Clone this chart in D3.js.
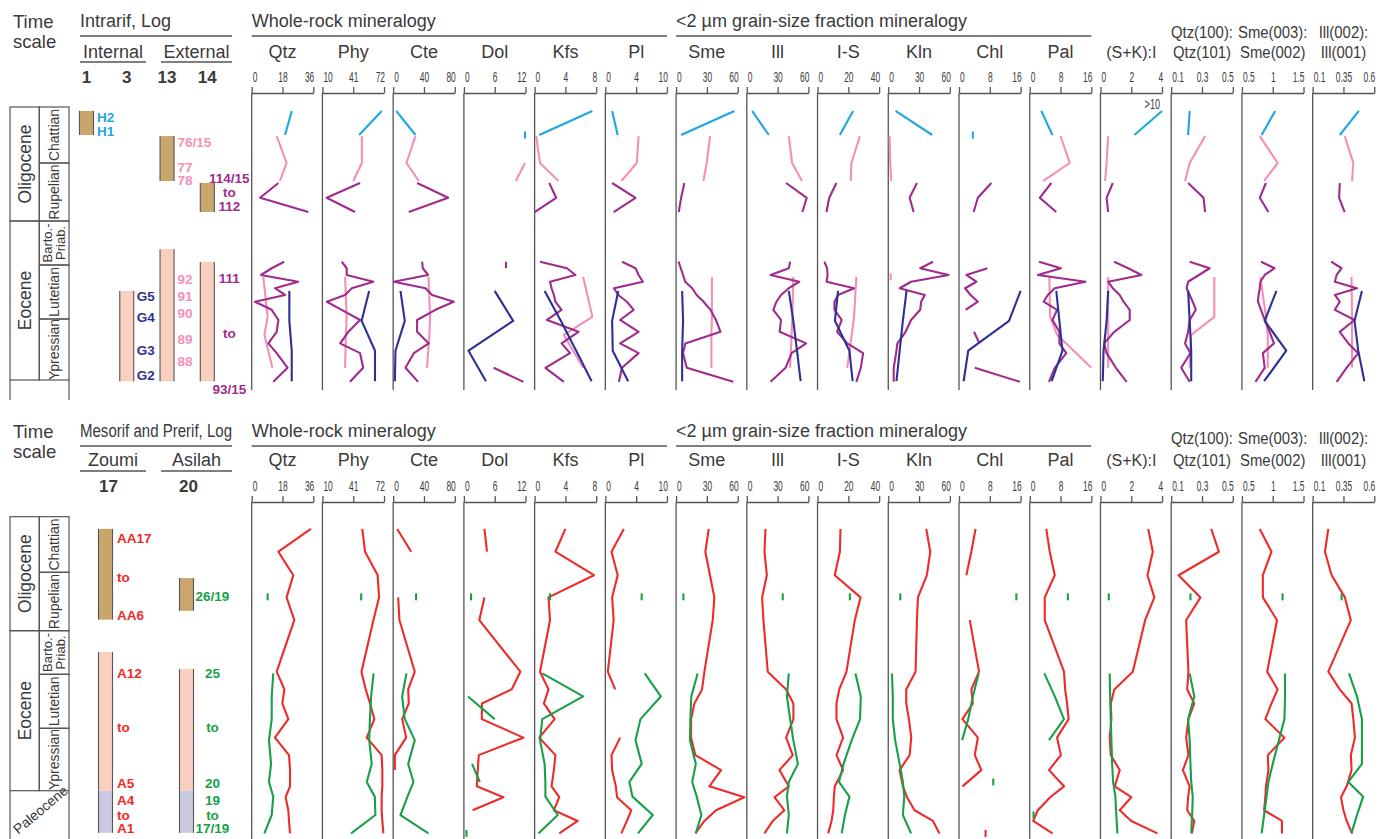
<!DOCTYPE html>
<html><head><meta charset="utf-8">
<script src="https://cdn.jsdelivr.net/npm/d3@7"></script>
<style>body{margin:0;background:#fff}svg{font-family:Arial,"Liberation Sans",sans-serif}</style>
</head><body>
<svg id="c" width="1389" height="839"></svg>
<script>
// ---------------- DATA ----------------
const panelNames = [["Qtz"],["Phy"],["Cte"],["Dol"],["Kfs"],["Pl"],["Sme"],["Ill"],["I-S"],["Kln"],["Chl"],["Pal"],["(S+K):I"],["Qtz(100):","Qtz(101)"],["Sme(003):","Sme(002)"],["Ill(002):","Ill(001)"]];
const panelDomains = [[0,36],[10,72],[0,80],[0,12],[0,8],[0,10],[0,60],[0,60],[0,40],[0,60],[0,16],[0,16],[0,4],[0.1,0.5],[0.5,1.5],[0.1,0.6]];
const tickLabels = [["0","18","36"],["10","41","72"],["0","40","80"],["0","6","12"],["0","4","8"],["0","4","10"],["0","30","60"],["0","30","60"],["0","20","40"],["0","30","60"],["0","8","16"],["0","8","16"],["0","2","4"],["0.1","0.3","0.5"],["0.5","1","1.5"],["0.1","0.35","0.6"]];
const groupTitles = ["Whole-rock mineralogy","<2 µm grain-size fraction mineralogy"];
const groupFirst = [0,6];
const groupLast = [5,11];

// time scale (stratigraphic position in stage units: 0 = top Chattian ... 5 = base Ypresian)
const epochNames = ["Oligocene","Eocene"];
const epochFrom = [0,2];
const epochTo = [2,5];
const stageNames = [["Chattian"],["Rupelian"],["Barto.-","Priab."],["Lutetian"],["Ypressian"]];
const stageFrom = [0,1,2,3,4];
const stageTo = [1,2,3,4,5];

// ---- Intrarif (top) ----
const topLogs = ["1","3","13","14"];
const topBarLog = ["1","13","14","3","13","14"];
const topBarFrom = [0.07,0.52,1.345,3.48,2.64,2.93];
const topBarTo = [0.5,1.31,1.845,5.02,5.02,5.02];
const topBarAge = ["Oligocene","Oligocene","Oligocene","Eocene","Eocene","Eocene"];

const log1Labels = ["H2","H1"];
const log1LabelLevels = [0.18,0.43];
const log3Labels = ["G5","G4","G3","G2"];
const log3LabelLevels = [3.57,3.96,4.52,4.93];
const log13Labels = ["76/15","77","78","92","91","90","89","88"];
const log13LabelLevels = [0.625,1.07,1.29,3.26,3.57,3.89,4.33,4.69];
const log14Labels = ["114/15","to","112","111","to","93/15"];
const log14LabelLevels = [1.26,1.5,1.74,3.24,4.23,5.15];

// series: sample levels + values per panel (panel order as panelNames)
const log1Levels = [0.07,0.5];
const log1Values = [[23.4,19.5],[69.7,46.9],[3.9,29],[null,11.9],[7.5,0.6],[1.1,2.0],[56.8,4.9],[5.2,21.4],[23.1,14.5],[7.1,42.8],[null,3.6],[3,5.9],[4,2.2],[0.22,0.21],[1.04,0.82],[0.475,0.32]];

const log13UpperLevels = [0.52,1.0,1.31];
const log13UpperValues = [[14.6,20.4,16.5],[49.7,49.7,41],[29,17.3,33.4],[null,11.9,10.1],[0.2,0.7,3.1],[5.4,5.1,2.6],[33.1,29.8,26.6],[40.9,44.1,53.8],[27.5,22,21.6],[1.3,1.9,2.9],[null,null,null],[8,10.4,3.5],[0.5,0.4,0.3],[0.32,0.22,0.19],[0.79,1.08,0.86],[0.36,0.43,0.42]];

const log14UpperLevels = [1.345,1.6,1.845];
const log14UpperValues = [[15.6,4.9,33.1],[47.9,14.3,42.8],[31.1,71.4,20.3],[null,null,null],[1.9,2.8,0],[1.1,4.9,1.35],[8.1,4.9,2.6],[38.3,58.4,54.1],[12.3,7.6,5.8],[27.9,20.8,24.7],[8.4,4.9,3.8],[5.6,2.6,6.9],[0.8,0.4,0.5],[0.21,0.31,0.32],[0.89,0.79,0.93],[0.32,0.315,0.36]];

const log3Levels = [3.48,4.03,4.52,5.02];
const log3Values = [[22,22,23.4,23.4],[57,49.5,62.9,62.9],[9.5,15.1,3,2.2],[6,9.6,0.9,4.3],[1.3,3.4,5.4,7.4],[2.1,1.1,1.2,3.7],[5.9,6.8,5.9,5.9],[40.9,45.3,48.9,52.4],[13.3,11.3,20.7,22.8],[17.8,14.2,11.1,8],[16,13,2.4,1.2],[6.9,7.7,8.5,5.7],[0.5,0.4,0.2,0.15],[0.21,0.22,0.23,0.23],[1.06,0.87,1.22,0.86],[0.5,0.44,0.47,0.52]];

const log13LowerLevels = [3.22,3.96,4.26,4.8];
const log13LowerValues = [[6.8,9.3,7.4,12.1],[32.8,34.4,33.6,32.8],[45.8,48,47,44],[null,null,null,null],[6.3,7.5,3.8,6.3],[null,null,null,null],[34.9,34.9,34.4,34.4],[45.3,44.4,43.6,42.2],[25.2,23.7,22.2,19.3],[2.4,null,null,null],[null,null,null,null],[5.1,5.3,7.1,16],[0.5,0.5,0.5,0.5],[0.38,0.38,0.23,0.22],[0.8,0.89,0.92,0.92],[0.415,0.42,0.42,0.42]];

const log14LowerLevels = [2.925,3.06,3.185,3.31,3.43,3.555,3.68,3.83,4.016,4.21,4.4,4.56,4.8,5.03];
const log14LowerValues = [
 [19,11.7,5.4,27.2,13.6,19.5,1.9,11.7,15.6,14.6,9.7,14.6,21,12.6],
 [29.4,34.4,34.4,61.3,39.5,32.8,14.4,29.4,47.9,36.1,27.8,47.9,51,37.8],
 [37.6,38.5,45.4,0.9,42,50.6,78.7,54.9,31.1,31.1,46.3,26.8,16,32.4],
 [8.2,8.2,null,null,null,null,null,null,null,null,null,null,5.8,11.6],
 [0.7,4.2,5.3,2,2.2,2.5,2.7,3.5,1.6,5.7,3.5,4.6,1.4,3.8],
 [2.7,4.9,5.4,6.1,1.4,2.1,3.5,4.6,2.4,5.4,2.4,5.4,2.7,2.2],
 [2.4,4.6,6.8,8.9,15.7,20,26.8,33.5,38.8,43.3,9,6.8,10.4,55.7],
 [42.2,40.9,23.1,51.1,40.9,33.3,28.9,25.8,33.3,32,57.8,43.6,37.8,23.1],
 [4.4,6.2,6.5,5.9,23.7,13.3,11,11,15.7,12.7,19.3,29.6,28.1,25.2],
 [43.6,31.1,58.7,22.2,11.1,35.6,32,31.1,22.2,16.9,8.9,7.6,5.3,5.3],
 [null,7.4,1.9,4.5,1.6,3.0,4.9,1.7,null,3.9,5.3,null,4.1,15.8],
 [2.4,8.1,2.1,14.5,6.5,4.7,3.6,7.1,5.9,7.7,7.7,9.5,6.5,5],
 [0.89,1.8,2.66,0.5,0.8,1.25,1.5,1.9,1.9,0.9,0.24,0.4,1.0,1.7],
 [0.22,0.35,0.28,0.21,0.2,0.22,0.24,0.26,0.22,0.21,0.19,0.225,0.165,0.22],
 [0.81,1.03,0.87,0.8,0.79,0.77,0.76,0.81,0.87,0.95,1.02,0.84,0.87,0.72],
 [0.25,0.335,0.295,0.28,0.46,0.28,0.32,0.28,0.44,0.32,0.39,0.47,0.375,0.295]];

// ---- Mesorif and Prerif (bottom) ----
const botLogs = ["17","20"];
const botLogNames = ["Zoumi","Asilah"];
const botBarLog = ["17","17","17","20","20","20"];
const botBarFrom = [0.22,2.49,5.0,1.1,2.88,5.0];
const botBarTo = [1.81,5.0,5.71,1.66,5.0,5.71];
const botBarAge = ["Oligocene","Eocene","Paleocene","Oligocene","Eocene","Paleocene"];

const zoumiLabels = ["AA17","to","AA6","A12","to","A5","A4","to","A1"];
const zoumiLabelLevels = [0.38,1.08,1.73,2.97,3.99,4.88,5.16,5.41,5.64];
const asilahLabels = ["26/19","25","to","20","19","to","17/19"];
const asilahLabelLevels = [1.41,2.97,3.99,4.88,5.16,5.41,5.64];

const zoumiLevels = [0.22,0.63,1.05,1.43,1.82,2.94,3.28,3.54,3.83,4.15,4.43,4.67,4.93,5.11,5.33,5.51,5.72];
const zoumiValues = [
 [34.6,15.6,24.3,20.4,24.9,14.6,19.1,17.9,21.4,13.6,21.8,22.4,22.4,19.8,21.4,21.8,22.4],
 [50.1,52.9,65.6,67,61.3,49.3,53.6,57.9,62.3,54.6,69.6,70.3,70.3,69.6,69.6,70.3,71.3],
 [5.2,23.4,null,6.5,8.2,28.1,19.5,20.3,11.7,16.9,2.2,2.2,null,null,null,null,null],
 [4,4.5,null,4,3,11,9.3,3.5,3.5,11.6,2.9,2.7,2.5,7.7,1.7,null,null],
 [4,2.7,7.7,1.8,2,0.7,1.8,1.2,2.6,0.6,2.7,2.5,2.2,3.2,2.5,5.6,3.2],
 [3,1,2,1.1,1.35,0.4,1.6,null,null,2.4,1,1.1,1.7,1.9,4.2,3.5,2.6],
 [31.8,28.5,33,37.3,35.7,27.6,25.3,17.8,14.6,14.6,18.8,43.8,32.4,66.5,38.9,27.6,18.8],
 [18.2,17.2,19.5,14.9,16.2,20.4,38.3,45.4,45.4,38.3,44.8,31.8,40.9,26.9,36.6,25.3,17.2],
 [14.9,14.5,11.2,27.9,24.2,18.8,14.1,12.3,12.3,16.6,12.3,16.6,11.2,10.6,10.2,9.1,6.9],
 [37,40.9,37.6,28.9,27.9,26.6,17.5,17.5,20.1,22.4,20.8,11,14.3,18.2,25.6,43.5,49.9],
 [4.3,3.2,1.9,null,2.8,5.2,3.2,3.6,0.9,4.9,4.1,5.8,0.9,null,null,null,6.9],
 [4.3,5.2,6.5,3.9,3.9,8.9,9.2,9.7,10.1,7.1,8.1,5,8.9,5.3,2.1,0.9,5.9],
 [3.1,3.4,3.05,3.5,2.9,2.1,0.9,0.67,0.71,0.6,0.67,1.25,0.93,2.0,1.25,2.0,3.7],
 [0.36,0.41,0.148,0.29,0.197,0.212,0.204,0.25,0.212,0.197,0.212,0.176,0.22,0.21,0.204,0.25,0.234],
 [0.79,0.98,0.84,0.84,1.07,0.91,1.08,0.98,0.88,1.19,0.92,0.93,0.89,0.88,0.86,1.15,1.15],
 [0.227,0.2,0.254,0.362,0.41,0.227,0.32,0.416,0.43,0.443,0.41,0.416,0.376,0.33,0.35,0.376,0.42]];

const asilahRupLevels = [1.42];
const asilahRupValues = [[9.3],[49],[29.8],[1.4],[2],[5.9],[7.1],[35],[21],[11.7],[14.9],[9.9],[0.54],[0.225],[1.16],[0.335]];

const asilahLevels = [2.98,3.41,3.83,4.19,4.57,4.86,5.1,5.41,5.72];
const asilahValues = [
 [12.6,11.7,11.7,10.1,11.3,10.1,12.6,11.7,7.4],
 [61.5,59,57.8,57.1,59.6,54.6,62.7,63.3,38.8],
 [17.3,11.6,15.1,28.1,19.5,26.4,18.6,9.5,45.8],
 [null,0.8,6,null,1.6,3.1,null,null,0.5],
 [1,6.3,1,0.7,1.3,1.4,1.4,3,0.5],
 [6.4,9,5.7,4.9,5.9,3.9,4.4,7.7,5.3],
 [21,14.8,13.9,13.5,19.2,15.7,20.1,24.6,19.2],
 [40.9,39.1,42.2,45.3,49.8,40.9,39.1,40.9,39.1],
 [24.6,28.1,27.6,22.2,16.9,13.9,20.7,17.8,15.7],
 [3.6,4.4,4.4,6.7,11.1,14.2,15.6,14.2,22.2],
 [5.1,3.6,2.4,0.8,null,8.9,null,null,null],
 [3.8,6.5,8.9,5,null,null,null,1,null],
 [0.6,0.63,0.67,0.71,0.76,0.82,0.97,1.03,1.1],
 [0.22,0.25,0.21,0.22,0.225,0.23,0.24,0.236,0.23],
 [1.2,1.2,1.19,1.1,1.0,0.93,0.9,0.86,0.82],
 [0.395,0.46,0.5,0.5,0.5,0.39,0.51,0.46,0.415]];

// ---------------- STYLE / LAYOUT ----------------
const C = {text:"#3a3a3a", axis:"#555", cyan:"#1fa6e0", pink:"#f48fb7", purple:"#9f2b8d", blue:"#2e3192",
  red:"#ee2b2b", green:"#17a049", tan:"#c9a66b", eoc:"#f9cfc0", pal:"#c9c9df"};
const ageFill = {Oligocene:C.tan, Eocene:C.eoc, Paleocene:C.pal};
const P0 = 251.7, PSTEP = 70.73, PW = 61.6;
const svg = d3.select("#c");

function condense(sel, f){
  sel.each(function(){ const w=this.getComputedTextLength(); this.setAttribute("textLength", w*f); this.setAttribute("lengthAdjust","spacingAndGlyphs"); });
}
function txt(g, x, y, s, size, opt={}){
  const t = g.append("text").attr("x",x).attr("y",y).attr("dy","0.35em").text(s)
    .attr("font-size",size).attr("fill",opt.fill||C.text).attr("text-anchor",opt.anchor||"start");
  if(opt.bold) t.attr("font-weight","bold");
  return t;
}
function hline(g,x1,x2,y,w=1.3){ g.append("line").attr("x1",x1).attr("x2",x2).attr("y1",y).attr("y2",y).attr("stroke",C.axis).attr("stroke-width",w); }
function vline(g,x,y1,y2,w=1.3){ g.append("line").attr("x1",x).attr("x2",x).attr("y1",y1).attr("y2",y2).attr("stroke",C.axis).attr("stroke-width",w); }

function drawSeries(g, x, y, levels, values, color){
  const pts = levels.map((l,k)=>({l, v: values[k]}));
  g.append("path").datum(pts)
    .attr("d", d3.line().defined(d=>d.v!=null).x(d=>x(d.v)).y(d=>y(d.l)))
    .attr("fill","none").attr("stroke",color).attr("stroke-width",2.1).attr("stroke-linejoin","round");
  pts.forEach((d,k)=>{
    if(d.v==null) return;
    const prev = k>0 ? pts[k-1].v : null, next = k<pts.length-1 ? pts[k+1].v : null;
    if(prev==null && next==null){
      g.append("line").attr("x1",x(d.v)).attr("x2",x(d.v)).attr("y1",y(d.l)-3.5).attr("y2",y(d.l)+3.5)
        .attr("stroke",color).attr("stroke-width",2.1);
    }
  });
}

function drawChart(cfg){
  const g = svg.append("g");
  const y = d3.scaleLinear().domain(cfg.stageDomain).range(cfg.stageRange);

  // left headings
  txt(g,13,cfg.titleY+1,"Time",18.5);
  txt(g,13,cfg.titleY+21,"scale",18.5);
  const ht = txt(g,80,cfg.titleY,cfg.logTitle,18);
  if(cfg.logTitleLen) ht.attr("textLength",cfg.logTitleLen).attr("lengthAdjust","spacingAndGlyphs");
  hline(g,80,232,cfg.lineY);
  cfg.subTitles.forEach((s,i)=>{
    const [a,b] = cfg.subSpans[i];
    txt(g,(a+b)/2,cfg.nameY,s,18,{anchor:"middle"});
    hline(g,a,b,cfg.nameY+ (cfg.subLineOff), 1.3);
  });
  const lx = d3.scalePoint().domain(cfg.logs).range(cfg.logRange);
  cfg.logs.forEach((l,i)=> txt(g, lx(l)+(cfg.logNumOff?cfg.logNumOff[i]:0), cfg.tickY, l, 17, {anchor:"middle", bold:true}));

  // time scale
  const ts = g.append("g");
  const X0=10, X1=39.3, X2=69;
  if(cfg.paleoLabel){
    const pcx=(X0+X2)/2+1, pcy=y(5)+19;
    ts.append("text").attr("transform",`translate(${pcx},${pcy}) rotate(-40)`).attr("text-anchor","middle")
      .attr("dy","0.35em").attr("font-size",14).attr("fill",C.text).text(cfg.paleoLabel);
  }
  epochNames.forEach((e,i)=>{
    ts.append("rect").attr("x",X0).attr("width",X1-X0).attr("y",y(epochFrom[i])).attr("height",y(epochTo[i])-y(epochFrom[i]))
      .attr("fill","none").attr("stroke",C.axis).attr("stroke-width",1.2);
    const cy = (y(epochFrom[i])+y(epochTo[i]))/2;
    ts.append("text").attr("transform",`translate(${(X0+X1)/2+0.5},${cy}) rotate(-90)`).attr("text-anchor","middle")
      .attr("dy","0.35em").attr("font-size",17.5).attr("fill",C.text).text(e);
  });
  stageNames.forEach((s,i)=>{
    ts.append("rect").attr("x",X1).attr("width",X2-X1).attr("y",y(stageFrom[i])).attr("height",y(stageTo[i])-y(stageFrom[i]))
      .attr("fill","none").attr("stroke",C.axis).attr("stroke-width",1.2);
    const cy = (y(stageFrom[i])+y(stageTo[i]))/2;
    s.forEach((line,k)=>{
      const cx = s.length===1 ? (X1+X2)/2 : (X1+X2)/2 + (k===0?-6.5:6.5);
      ts.append("text").attr("transform",`translate(${cx},${cy}) rotate(-90)`).attr("text-anchor","middle")
        .attr("dy","0.35em").attr("font-size",s.length===1?14:13).attr("fill",C.text).text(line);
    });
  });
  // lowest (Paleocene) cell
  vline(ts,X0,y(5),cfg.bottom+10,1.2); vline(ts,X2,y(5),cfg.bottom+10,1.2);

  // log bars
  cfg.barLog.forEach((l,i)=>{
    const cx = lx(l), w=14;
    g.append("rect").attr("x",cx-w/2).attr("width",w).attr("y",y(cfg.barFrom[i])).attr("height",y(cfg.barTo[i])-y(cfg.barFrom[i]))
      .attr("fill",ageFill[cfg.barAge[i]]);
    vline(g,cx-w/2,y(cfg.barFrom[i]),y(cfg.barTo[i]),1.1);
    vline(g,cx+w/2,y(cfg.barFrom[i]),y(cfg.barTo[i]),1.1);
  });
  // sample labels
  cfg.labelSets.forEach(ls=>{
    ls.texts.forEach((t,k)=>{
      txt(g, lx(ls.log)+ls.dx, y(ls.levels[k]), t, 13.5, {fill:ls.color, bold:true, anchor:ls.anchor});
    });
  });

  // group titles
  groupTitles.forEach((t,i)=>{
    const x1 = P0+groupFirst[i]*PSTEP, x2 = P0+groupLast[i]*PSTEP+PW;
    txt(g,x1,cfg.titleY,t,18);
    hline(g,x1,x2,cfg.lineY);
  });

  // panels
  panelNames.forEach((nm,i)=>{
    const left = P0+i*PSTEP;
    const dom = panelDomains[i];
    const x = d3.scaleLinear().domain(dom).range([left,left+PW]);
    const cx = left+PW/2;
    if(nm.length===1){ txt(g,cx,cfg.nameY,nm[0], i>=12?16:18,{anchor:"middle"}); }
    else {
      condense(txt(g,cx,cfg.nameY-cfg.ratioGap,nm[0],16,{anchor:"middle"}),0.93);
      condense(txt(g,cx,cfg.nameY,nm[1],16,{anchor:"middle"}),0.93);
    }
    const axis = d3.axisTop(x).tickValues([dom[0],(dom[0]+dom[1])/2,dom[1]])
      .tickFormat((d,k)=>tickLabels[i][k]).tickSize(6).tickSizeOuter(0);
    const ag = g.append("g").attr("transform",`translate(0,${cfg.axisY})`).call(axis);
    ag.select(".domain").attr("stroke",C.axis).attr("stroke-width",1.3);
    ag.selectAll(".tick line").attr("stroke",C.axis).attr("stroke-width",1.3);
    ag.selectAll(".tick text").attr("y",cfg.tickY-cfg.axisY).attr("dy","0.35em").attr("font-size",14.5)
      .attr("fill",C.text).attr("font-family","Arial, 'Liberation Sans', sans-serif")
      .attr("text-anchor",(d,k)=> k===0?"start":(k===2?"end":"middle"))
      .attr("x",(d,k)=> k===0?0.5:(k===2?0.5:0));
    condense(ag.selectAll(".tick text"),0.58);
    vline(g,x(dom[0]),cfg.axisY,cfg.bottom);
    const sg = g.append("g");
    cfg.series.forEach(s=> drawSeries(sg,x,y,s.levels,s.values[i],s.color));
    if(i===12 && cfg.gtLabel){
      condense(txt(g,x(4)-2,y(log1Levels[0])-7,cfg.gtLabel,14,{anchor:"end"}),0.65);
    }
  });
}

// ---------------- TOP CHART ----------------
drawChart({
  titleY:21, lineY:36, nameY:52, tickY:77, axisY:93, bottom:390,
  stageDomain:[0,1,2,3,4,5], stageRange:[107,163,221,265,319,380],
  logTitle:"Intrarif, Log", subTitles:["Internal","External"], subSpans:[[80,146],[161,232]], subLineOff:10,
  logs:topLogs, logRange:[86.5,207.3],
  barLog:topBarLog, barFrom:topBarFrom, barTo:topBarTo, barAge:topBarAge,
  ratioGap:20, gtLabel:">10",
  labelSets:[
    {log:"1", texts:log1Labels, levels:log1LabelLevels, color:C.cyan, dx:10.5, anchor:"start"},
    {log:"3", texts:log3Labels, levels:log3LabelLevels, color:C.blue, dx:10, anchor:"start"},
    {log:"13", texts:log13Labels, levels:log13LabelLevels, color:C.pink, dx:10.5, anchor:"start"},
    {log:"14", texts:log14Labels, levels:log14LabelLevels, color:C.purple, dx:22, anchor:"middle"}
  ],
  series:[
    {levels:log1Levels, values:log1Values, color:C.cyan},
    {levels:log13UpperLevels, values:log13UpperValues, color:C.pink},
    {levels:log13LowerLevels, values:log13LowerValues, color:C.pink},
    {levels:log14UpperLevels, values:log14UpperValues, color:C.purple},
    {levels:log14LowerLevels, values:log14LowerValues, color:C.purple},
    {levels:log3Levels, values:log3Values, color:C.blue}
  ]
});

// ---------------- BOTTOM CHART ----------------
drawChart({
  titleY:431, lineY:446, nameY:460, tickY:486, axisY:502, bottom:845,
  stageDomain:[0,1,2,3,4,5,6], stageRange:[516.7,572.3,630.7,674.3,728.3,790.7,850],
  logTitle:"Mesorif and Prerif, Log", logTitleLen:152, subTitles:botLogNames, subSpans:[[80,146],[161,232]], subLineOff:11,
  logs:botLogs, logRange:[105.5,186.5], logNumOff:[3,2],
  barLog:botBarLog, barFrom:botBarFrom, barTo:botBarTo, barAge:botBarAge,
  ratioGap:22, paleoLabel:"Paleocene",
  labelSets:[
    {log:"17", texts:zoumiLabels, levels:zoumiLabelLevels, color:C.red, dx:11.5, anchor:"start"},
    {log:"20", texts:asilahLabels, levels:asilahLabelLevels, color:C.green, dx:26, anchor:"middle"}
  ],
  series:[
    {levels:zoumiLevels, values:zoumiValues, color:C.red},
    {levels:asilahRupLevels, values:asilahRupValues, color:C.green},
    {levels:asilahLevels, values:asilahValues, color:C.green}
  ]
});
</script>
</body></html>
